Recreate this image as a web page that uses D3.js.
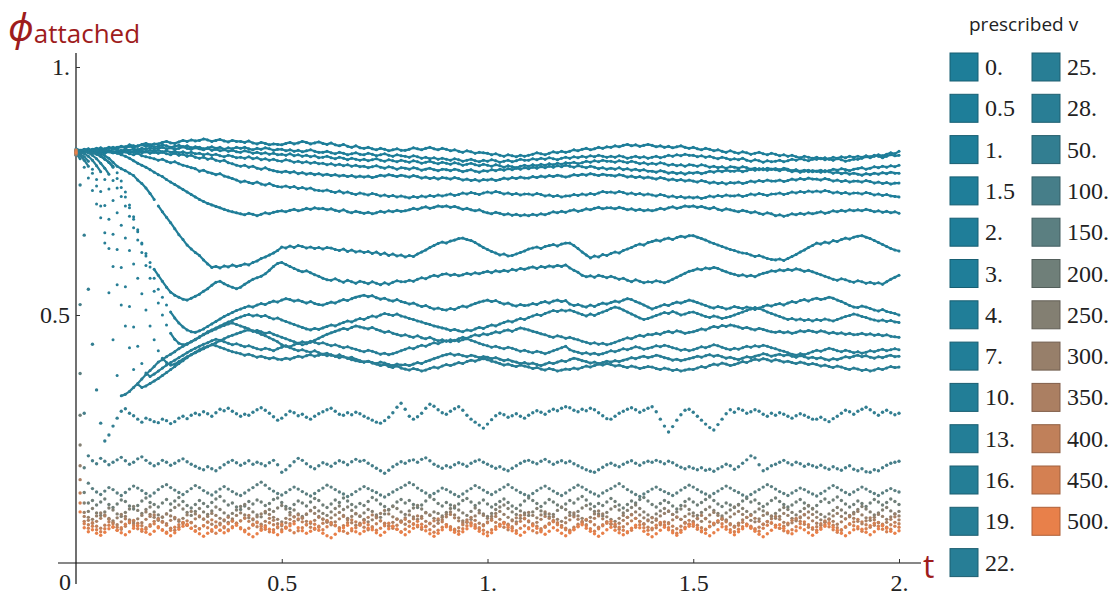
<!DOCTYPE html>
<html><head><meta charset="utf-8">
<script src="https://cdn.jsdelivr.net/npm/d3@7"></script>
<style>body{margin:0;background:#fff}svg{display:block}</style>
</head><body>
<svg id="chart" width="1116" height="596"></svg>
<script>
// prescribed v (legend categories)
const vLabels = ["0.","0.5","1.","1.5","2.","3.","4.","7.","10.","13.","16.","19.","22.","25.","28.","50.","100.","150.","200.","250.","300.","350.","400.","450.","500."];
const vValues = [0,0.5,1,1.5,2,3,4,7,10,13,16,19,22,25,28,50,100,150,200,250,300,350,400,450,500];
const tStep = 0.01;   // sampling step of t (index i -> t = i*tStep)
const xTicks = [0.5,1,1.5,2], xTickLabels = ["0.5","1.","1.5","2."];
const yTicks = [0.5,1], yTickLabels = ["0.5","1."];

// phi_attached in thousandths, t = 0 .. 2 by 0.01
const phi_v0 = [828,830,833,831,834,836,833,835,838,836,838,840,839,843,841,840,844,846,843,845,845,848,850,847,846,849,852,850,853,851,852,855,853,850,852,854,851,849,852,850,850,848,851,847,845,848,846,843,845,844,843,846,848,845,847,850,848,845,847,849,846,844,847,843,841,844,840,838,841,837,836,838,835,833,836,834,831,833,835,832,832,834,837,835,833,836,838,835,833,836,834,831,833,830,828,831,829,826,828,827,826,823,825,822,820,823,821,819,822,820,822,824,827,825,823,826,829,827,830,828,830,833,831,834,836,833,835,838,836,839,838,841,839,842,844,841,843,840,842,844,842,839,841,838,840,837,839,841,838,836,838,835,833,836,834,831,833,830,828,831,828,826,829,827,824,826,828,825,823,826,824,821,823,820,822,819,817,820,818,816,818,815,817,814,812,815,813,810,812,814,814,816,819,817,820,823,821,824,827,825,830];
const phi_v05 = [832,829,833,835,832,834,837,834,836,838,836,839,837,840,838,841,843,840,842,839,840,843,841,838,840,842,839,841,837,839,838,835,837,839,836,838,834,837,835,838,836,838,835,833,836,834,837,835,832,834,834,831,833,830,832,829,831,833,830,828,828,830,827,825,828,826,823,825,827,824,823,826,824,821,823,825,822,820,823,821,820,818,821,819,816,818,815,817,814,816,814,812,815,813,810,812,814,811,809,812,810,813,811,808,810,812,809,811,814,812,812,815,813,816,814,817,815,813,816,818,816,819,817,820,818,821,819,822,820,818,820,818,821,819,816,818,820,817,819,816,818,820,817,819,822,820,823,821,824,822,822,819,821,818,820,817,815,818,816,813,815,813,816,812,810,813,811,808,811,809,810,812,809,811,814,812,815,813,811,814,814,816,813,815,818,816,819,817,820,818,820,818,821,819,822,820,817,820,823,821,822];
const phi_v1 = [825,828,826,830,827,831,829,832,830,834,833,830,834,832,835,833,836,834,837,835,836,838,835,837,834,836,839,836,834,837,835,833,836,832,834,831,833,830,832,829,828,831,829,826,828,825,827,824,826,823,824,822,825,821,823,820,822,819,821,817,818,820,817,815,818,816,813,816,814,812,814,811,813,815,812,810,813,811,809,812,810,808,811,809,806,808,810,807,805,808,806,804,807,805,802,804,806,803,801,804,802,800,803,801,798,801,799,797,800,802,800,803,801,804,802,805,803,806,804,807,806,808,805,807,810,808,811,809,812,810,810,808,811,809,807,810,808,805,807,804,806,804,807,805,802,804,801,803,800,803,802,800,803,801,798,800,797,799,796,799,798,796,799,797,794,796,793,795,792,794,793,791,794,792,789,791,788,790,792,789,790,792,789,791,794,792,795,793,791,794,795,797,794,796,799,797,800,798,801,799,802];
const phi_v15 = [830,827,829,832,829,831,828,826,829,827,828,831,829,827,830,833,831,829,832,830,832,829,831,828,830,827,829,826,828,825,826,823,825,822,824,821,819,822,820,817,818,816,819,815,817,813,815,812,814,811,810,813,811,808,810,807,809,806,808,805,806,803,805,802,804,801,803,800,802,799,800,797,799,801,798,796,799,797,794,797,796,794,797,795,792,794,796,793,791,794,793,791,794,792,789,791,793,790,788,791,790,793,791,794,792,795,793,796,794,797,795,798,796,799,797,800,798,801,799,802,800,798,801,799,797,800,798,795,797,794,796,794,797,793,795,792,794,791,793,790,790,788,791,789,786,788,785,787,784,787,786,788,785,787,790,788,791,789,792,790,790,792,789,791,794,792,795,793,796,794,795,793,796,794,791,793,790,792,789,791,790,788,791,789,786,788,785,787,784,786,784,782,785,783,786,784,787,785,788,786,786];
const phi_v2 = [835,832,834,831,833,830,832,829,831,828,830,832,829,831,828,830,827,829,826,828,826,828,825,823,826,822,824,820,822,818,816,818,814,816,812,810,812,807,805,802,800,802,798,800,796,794,797,793,791,789,788,790,787,789,785,787,784,786,783,785,782,784,781,783,780,782,779,781,778,780,778,780,777,779,782,780,783,781,779,782,780,778,781,779,776,778,775,777,774,777,776,774,777,775,772,774,771,773,770,773,772,774,771,773,776,774,777,775,778,776,776,779,777,780,778,781,779,782,780,778,780,783,781,784,782,785,783,781,784,782,782,780,783,781,778,780,777,779,776,778,776,774,777,775,772,774,771,773,770,772,770,768,771,769,766,768,765,767,764,767,766,768,765,767,770,768,771,769,772,770,770,772,769,771,774,772,775,773,776,774,774,772,775,773,770,772,769,771,768,770,770,768,771,769,766,768,765,767,764,766,766];
const phi_v3 = [826,829,827,830,828,831,829,832,830,827,828,826,829,825,823,826,821,819,817,815,812,814,810,807,809,805,802,800,797,795,790,792,788,786,783,785,780,778,775,772,768,770,767,765,768,764,762,765,761,759,758,760,757,759,755,757,754,756,752,751,750,752,749,747,750,746,748,745,743,746,744,742,745,743,740,742,739,741,738,740,738,736,739,737,740,738,741,739,742,740,742,744,741,743,746,744,747,745,743,746,748,746,749,747,744,746,743,745,742,744,744,742,745,743,740,742,739,741,738,740,740,743,741,744,742,745,743,746,749,747,748,746,749,747,744,746,743,745,742,744,742,740,743,741,738,740,737,739,736,738,736,738,735,737,740,738,741,739,742,740,740,742,739,741,744,742,745,743,741,744,744,746,743,745,748,746,749,747,750,748,750,748,751,749,746,748,745,747,744,746,746,744,747,745,742,744,741,743,740,739,738];
const phi_v4 = [832,829,831,834,831,833,830,832,829,828,826,823,820,816,811,806,802,798,793,788,783,779,773,768,763,758,753,748,743,738,733,729,725,722,719,716,713,710,708,706,704,702,705,703,700,703,706,704,707,709,710,708,711,713,710,712,715,713,716,714,715,712,714,711,709,712,708,706,709,707,705,707,704,706,709,707,710,708,711,709,710,712,715,713,716,718,715,717,720,718,720,717,719,716,713,715,712,710,712,708,706,704,707,705,702,704,701,703,700,702,700,703,701,704,702,705,708,706,709,707,710,712,709,711,714,712,715,717,714,716,716,714,717,715,712,714,711,713,710,712,710,712,715,713,716,718,715,717,720,718,720,717,719,716,714,717,713,711,714,712,710,708,711,709,706,708,705,703,706,704,700,702,699,701,704,702,705,703,706,704,706,708,705,707,710,708,711,709,712,710,712,710,713,711,708,710,707,709,706,708,705];
const phi_v7 = [830,832,829,831,828,828,825,821,816,808,800,795,791,786,781,772,765,756,745,733,720,708,697,686,674,662,652,641,633,626,620,611,603,596,598,595,599,597,601,598,600,603,601,606,609,614,617,621,625,630,637,635,639,636,640,638,635,637,634,636,633,636,635,632,630,633,628,631,627,629,626,628,624,627,622,625,620,623,619,621,617,620,618,623,627,631,636,640,644,647,645,649,651,654,655,652,650,646,641,636,632,628,625,621,623,619,620,623,626,629,633,635,637,634,638,640,642,639,643,645,645,640,634,627,621,615,619,617,622,620,624,627,625,630,633,636,640,643,641,646,648,651,649,653,655,652,656,659,657,660,660,657,654,651,647,644,641,638,635,632,630,627,625,624,621,618,620,617,614,612,611,613,610,614,618,622,627,631,636,640,645,643,647,645,650,648,652,655,653,657,659,660,657,654,650,646,642,638,634,631,629];
const phi_v10 = [829,831,828,830,827,825,820,814,808,800,787,770,748,722,698,672,645,624,606,592,580,568,556,546,540,536,532,530,534,538,542,548,553,560,566,568,563,559,556,553,556,562,567,572,575,578,583,590,598,604,606,602,598,594,590,587,589,585,581,578,574,571,570,573,569,566,570,567,564,568,566,563,567,564,561,565,562,566,569,567,567,570,568,572,575,573,577,580,578,582,583,580,582,579,581,584,582,585,583,586,588,585,589,587,590,588,592,590,594,592,595,597,594,598,596,599,597,600,598,601,595,590,586,580,577,579,576,580,578,575,578,575,572,574,570,567,571,568,565,567,566,569,567,565,568,572,576,580,584,588,590,593,591,595,593,596,594,590,587,584,582,579,581,578,580,577,581,584,586,589,588,591,589,592,590,593,591,588,590,587,584,581,578,575,572,570,573,571,568,566,569,567,564,566,563,565,562,567,572,576,580];
const phi_v13 = [826,829,827,830,827,824,820,815,808,798,775,757,738,716,693,668,643,619,597,574,552,536,520,506,494,484,476,470,466,465,468,472,477,482,487,492,497,501,505,509,512,515,518,516,520,523,521,525,528,526,530,533,531,528,530,527,524,527,523,521,520,523,526,524,528,531,529,533,536,538,540,537,539,535,532,534,530,528,531,527,525,522,524,520,517,519,515,512,514,511,510,513,511,515,518,516,520,523,526,528,530,527,529,525,522,524,520,518,521,519,520,523,521,525,527,524,528,530,527,529,522,519,521,518,516,520,517,521,524,522,525,528,526,530,533,531,527,524,520,516,512,515,518,521,519,523,526,524,527,530,528,525,522,519,516,514,517,515,512,514,517,515,513,516,514,511,514,517,520,518,521,523,520,524,527,525,529,531,528,532,534,531,533,536,534,530,527,523,519,516,515,518,516,513,510,508,511,507,505,503,500];
const phi_v16 = [833,830,832,827,822,815,806,796,784,771,756,739,720,699,676,651,626,600,574,548,524,500,480,463,451,443,440,442,446,450,455,461,466,470,474,478,482,486,489,493,496,499,501,498,500,497,499,495,492,494,490,487,484,481,478,475,472,470,473,471,474,477,480,478,482,485,488,486,490,493,491,495,498,496,500,503,501,499,502,498,496,493,491,488,486,483,481,478,476,474,472,469,471,468,466,470,468,472,475,473,477,480,478,482,485,488,486,490,493,491,495,498,501,499,503,506,509,507,510,508,510,507,504,501,498,502,499,503,506,509,513,516,514,510,506,502,498,494,491,493,496,499,502,505,503,507,504,500,502,505,506,503,500,497,495,498,496,493,495,497,500,503,506,509,512,515,513,510,506,503,500,497,494,491,493,490,492,489,491,488,491,489,492,490,488,491,494,497,499,502,500,497,495,492,490,488,490,487,489,486,485];
const phi_v19 = [831,828,826,820,812,801,789,773,754,731,706,681,655,630,603,574,543,510,478,450,428,413,404,399,401,406,411,416,420,424,428,432,436,440,444,448,452,456,459,462,465,468,470,467,469,466,463,465,461,458,455,452,449,446,443,440,442,445,449,453,457,461,464,467,470,473,471,475,478,476,474,472,475,471,468,465,467,463,461,458,460,457,455,458,454,452,455,451,448,450,447,450,448,452,455,453,457,460,458,462,460,463,466,464,468,470,467,471,474,472,470,467,465,462,460,457,455,458,456,453,455,452,450,447,445,442,444,441,443,440,442,445,448,451,454,452,456,459,457,461,460,463,461,465,467,464,468,466,463,465,466,469,472,470,474,477,475,479,477,480,478,476,473,475,472,470,473,471,468,466,465,467,464,466,463,465,468,466,469,467,465,468,466,463,465,462,464,461,463,460,461,463,460,462,459,461,458,460,457,456,455];
const phi_v22 = [828,825,819,810,794,773,749,721,693,663,632,596,557,517,476,437,402,383,376,381,387,393,399,404,409,414,419,424,429,433,437,441,444,448,451,449,446,443,440,442,439,436,438,435,432,430,433,431,428,432,435,438,436,440,443,446,444,447,445,442,444,441,438,440,437,434,436,433,431,428,426,429,427,424,421,423,420,422,425,428,431,434,432,436,439,437,441,444,442,446,448,446,449,447,450,452,449,446,443,440,438,435,437,434,432,435,433,430,427,429,426,424,427,425,422,425,428,431,434,437,430,427,425,422,424,421,423,420,422,425,428,426,429,432,430,433,436,434,431,433,435,438,436,439,437,434,432,429,431,428,430,433,436,434,437,440,438,435,432,430,433,431,434,437,435,438,436,439,437,434,432,429,427,424,421,419,422,420,423,426,429,427,430,433,431,428,426,429,427,424,426,423,425,428,426,429,431,428,430,432,430];
const phi_v25 = [826,815,798,776,751,724,696,666,634,598,561,520,478,434,390,360,354,357,362,367,372,378,384,390,396,402,408,414,420,425,430,434,437,440,438,435,432,429,426,424,422,419,421,418,415,417,414,412,414,411,410,413,411,414,417,415,418,420,417,419,421,418,420,417,414,416,413,410,408,406,405,407,404,402,405,403,400,398,401,399,400,398,401,404,402,406,409,412,415,418,420,422,419,421,418,416,419,417,414,416,415,412,414,411,408,410,407,405,402,404,401,403,400,398,401,404,402,405,408,406,410,413,411,408,406,403,405,402,404,407,405,408,406,409,411,414,412,415,417,414,416,419,417,414,412,409,411,408,410,412,414,417,415,418,420,417,419,416,413,415,412,410,413,416,414,417,419,422,420,417,419,421,418,420,417,415,418,416,413,415,412,414,411,409,412,410,413,416,414,417,419,416,418,415,413,416,414,417,419,416,417];
const phi_v28 = [829,822,812,800,786,760,720,645,545,450,378,337,340,346,354,362,371,380,388,396,405,410,416,421,426,432,437,441,446,451,456,460,464,468,472,476,479,482,484,481,478,475,472,468,465,461,458,454,450,446,440,437,434,431,428,430,427,425,428,424,421,423,419,417,420,416,413,415,411,408,405,407,403,401,398,400,396,394,397,393,391,389,392,390,387,389,392,395,393,397,400,398,401,404,402,406,409,407,410,412,410,407,405,402,399,401,398,396,399,397,395,392,394,391,389,392,390,387,389,391,390,393,391,394,397,395,398,401,399,402,400,397,399,396,394,397,395,392,394,396,395,392,390,393,391,388,390,387,389,391,390,393,396,394,398,401,399,403,401,398,400,403,406,404,408,411,409,412,410,407,410,408,405,407,404,402,405,403,400,402,400,397,399,396,394,397,395,392,390,393,391,388,390,387,389,392,390,393,396,394,395];
const phi_v50 = [830,762,661,552,441,349,282,246,258,276,292,306,311,302,297,290,284,292,289,285,283,290,287,281,285,292,296,291,298,302,299,305,301,296,303,310,307,312,306,301,296,300,298,304,309,313,308,302,295,288,292,299,306,303,297,300,294,290,296,301,305,309,312,306,300,298,303,299,304,301,296,292,288,284,282,287,294,303,314,322,310,296,290,295,302,312,320,316,309,303,300,306,311,315,308,298,290,284,278,272,280,289,297,302,299,294,297,301,296,292,298,303,307,304,300,306,310,307,312,315,313,308,305,310,307,312,309,303,297,291,290,296,302,306,310,313,309,304,308,312,315,305,290,276,264,275,288,299,308,310,304,296,288,280,273,268,279,290,301,309,304,311,308,302,305,309,306,300,296,302,298,303,300,296,292,297,301,298,294,290,290,294,289,285,291,296,302,308,305,300,306,310,314,309,303,298,304,308,303,299,302];
const phi_v100 = [831,521,302,216,206,200,211,205,198,203,208,213,206,199,203,210,214,207,201,196,200,207,203,197,201,206,210,204,199,195,191,188,194,190,186,192,198,203,207,202,197,201,206,199,203,200,196,202,207,198,183,188,196,204,211,207,200,194,190,196,202,199,195,201,206,203,198,204,209,205,207,201,196,191,186,181,187,194,199,204,201,206,208,203,209,212,206,199,195,191,196,193,198,202,199,195,201,205,208,203,199,195,191,194,189,186,191,196,201,205,207,203,200,205,209,204,199,203,206,202,205,200,196,192,188,185,183,188,193,198,201,197,194,199,203,206,201,197,202,205,203,207,204,200,205,202,197,193,190,194,191,188,192,187,189,185,190,194,199,196,189,194,201,208,216,212,198,186,190,196,199,203,207,202,198,203,200,195,199,196,193,197,192,189,194,190,187,192,196,189,186,190,184,183,188,186,192,197,201,203,205];
const phi_v150 = [822,382,192,161,150,143,138,145,152,148,141,136,142,149,155,151,146,140,135,141,148,154,158,152,147,142,138,144,150,156,152,146,141,137,143,149,154,149,144,139,136,141,147,152,158,163,157,150,145,140,137,142,148,153,149,144,139,135,140,146,151,157,153,148,143,139,134,138,144,149,154,150,146,142,137,133,138,143,148,152,157,162,158,151,146,141,136,140,145,151,148,143,138,134,139,145,150,156,152,147,142,138,143,148,153,158,152,147,142,138,135,140,146,151,155,150,145,140,136,141,147,152,157,153,148,143,139,135,141,146,150,155,160,154,148,143,138,134,139,144,149,153,148,144,140,136,141,147,152,157,153,148,143,139,135,140,145,150,155,151,146,142,137,133,138,143,148,153,158,154,149,144,140,136,141,146,151,148,143,139,135,140,145,151,156,152,147,142,138,143,148,153,149,144,140,136,141,146,150,146,143];
const phi_v200 = [830,298,142,121,126,117,123,129,118,112,119,127,124,115,109,116,125,131,122,118,113,121,128,119,125,132,124,116,111,118,126,120,114,122,129,134,125,117,121,113,108,115,124,119,127,123,116,120,128,131,122,114,110,118,125,121,115,123,130,126,117,112,119,127,122,131,125,118,113,120,116,124,132,127,119,114,108,115,123,128,121,126,118,112,117,125,133,128,120,115,122,117,111,119,126,130,123,116,121,127,119,113,118,124,129,122,115,110,117,125,131,126,120,114,121,128,123,117,112,119,126,121,129,134,127,119,114,120,116,123,130,124,117,111,118,125,121,128,132,125,118,113,120,126,122,115,109,116,124,129,123,117,122,128,133,126,119,114,121,117,112,118,125,130,123,127,120,114,119,126,131,124,118,113,117,123,128,121,115,110,116,124,129,122,127,133,126,119,113,118,125,120,114,121,128,123,117,122,129,124,118];
const phi_v250 = [826,238,121,104,110,101,96,103,111,107,99,94,102,109,114,106,100,108,113,103,97,92,99,106,112,117,109,102,96,104,110,103,98,105,113,108,101,95,100,107,114,118,110,103,97,93,101,108,104,111,116,109,102,107,99,94,98,106,112,105,100,96,103,110,115,108,113,106,99,94,101,108,104,97,92,99,107,114,110,103,98,105,111,116,109,102,97,103,100,95,102,110,115,107,101,96,104,111,106,99,94,100,108,113,117,110,103,98,105,101,96,103,110,105,99,93,98,106,113,108,102,97,104,111,116,109,104,99,95,102,109,114,107,101,106,112,117,110,103,97,92,99,105,110,104,98,103,109,115,108,101,96,102,108,113,106,100,95,101,107,113,117,110,104,98,103,109,105,99,94,100,107,112,108,102,97,104,110,116,109,103,98,93,99,106,112,107,101,96,102,108,114,109,103,97,101,107,112,105,99,104];
const phi_v300 = [831,196,102,92,88,95,101,97,90,85,91,98,94,87,83,89,96,103,98,92,86,93,99,95,89,84,90,97,104,99,93,88,94,100,96,90,85,82,89,96,101,97,91,87,93,99,104,98,92,88,83,90,97,93,87,92,99,105,100,94,89,84,91,97,102,96,90,94,100,95,88,83,87,94,100,106,99,93,89,85,91,97,93,88,94,101,96,90,86,92,98,103,97,91,85,82,88,95,101,96,90,94,100,104,98,92,87,83,90,97,102,96,91,97,103,99,93,88,84,91,96,101,95,90,86,92,99,105,99,93,88,84,90,96,92,98,103,97,91,87,82,89,95,100,105,98,92,88,94,99,95,89,84,90,97,102,96,91,87,93,99,104,98,92,86,83,89,96,101,95,90,94,100,96,90,85,91,97,103,98,92,87,83,89,95,100,94,89,93,99,104,97,91,86,92,98,94,88,93,99,95];
const phi_v350 = [824,168,94,86,80,84,90,95,88,82,77,83,89,85,79,75,81,88,94,97,90,84,79,86,92,87,81,76,82,89,95,89,83,78,74,80,87,92,86,80,85,91,96,89,83,78,84,90,86,79,75,81,88,93,97,90,84,80,86,92,88,82,77,83,89,94,87,81,76,80,86,92,97,91,85,79,75,82,88,84,78,83,89,95,90,84,79,74,80,87,93,98,91,85,81,87,92,86,80,77,83,89,94,88,82,78,85,91,96,89,83,77,82,88,94,90,84,79,75,81,87,93,88,82,77,84,90,95,89,83,78,74,80,86,92,97,90,84,79,85,91,86,80,75,81,87,93,88,82,78,84,90,96,89,83,77,82,88,85,79,74,80,87,92,96,90,84,78,83,89,94,88,82,77,81,87,93,98,91,85,80,76,82,88,84,78,83,89,95,90,84,79,85,91,87,81,76,82,88,93,87];
const phi_v400 = [829,141,84,77,81,74,70,76,83,79,72,68,74,81,86,80,75,71,77,84,88,82,76,70,66,72,79,85,81,74,69,75,82,87,83,77,71,67,73,80,85,90,84,78,73,69,75,81,77,71,67,72,79,84,89,83,77,72,68,74,80,86,82,76,71,75,81,87,83,78,72,67,73,79,85,80,74,70,76,82,88,84,78,73,68,74,80,85,89,83,77,71,66,71,77,83,79,73,69,75,81,86,82,77,72,67,73,79,84,90,85,79,74,69,74,80,86,81,75,70,66,72,78,84,88,83,77,72,77,83,79,73,68,73,79,85,90,84,78,72,67,71,77,83,79,74,69,74,80,86,81,76,71,67,73,79,85,89,83,77,72,76,82,78,72,67,72,78,84,80,75,70,74,80,86,90,84,78,72,68,73,79,85,81,76,71,66,72,78,83,88,83,77,72,76,82,78,72,77,82,79];
const phi_v450 = [833,121,79,70,74,67,63,69,76,72,66,71,78,83,75,69,64,68,74,79,73,67,62,66,72,77,82,76,70,65,69,75,71,64,60,66,73,79,84,77,71,66,70,76,81,74,68,63,67,73,78,72,66,61,65,71,77,83,78,72,67,73,79,75,69,64,60,65,71,76,81,77,71,66,70,75,80,74,68,63,68,74,79,84,78,73,67,62,66,72,77,73,68,64,69,75,81,77,71,66,62,67,73,78,82,76,70,65,70,75,71,65,61,66,72,78,83,77,72,67,63,68,74,79,75,69,64,69,75,80,84,78,72,66,61,66,72,77,71,66,70,76,82,77,71,65,60,66,72,78,74,68,63,68,74,80,85,79,73,67,63,68,73,78,74,69,64,70,76,81,76,70,65,61,67,73,79,83,77,71,66,71,77,73,67,62,67,73,79,75,69,64,69,75,80,74,68,63,68,74,72];
const phi_v500 = [827,103,71,63,67,60,56,62,69,73,66,61,57,63,70,75,68,62,58,64,71,66,60,55,61,68,74,78,70,64,59,54,60,67,72,66,61,65,71,76,69,63,58,53,59,66,72,68,62,57,63,70,75,79,71,65,60,64,70,66,60,55,51,58,65,71,76,69,63,59,64,70,67,61,56,62,69,74,68,62,57,63,70,76,72,65,59,54,60,67,73,67,62,58,63,69,75,70,64,59,55,61,68,74,79,72,65,60,56,62,69,75,70,63,58,64,71,66,60,55,61,67,73,77,70,64,59,54,60,67,72,66,61,57,63,70,76,71,64,58,53,59,66,72,67,61,56,62,69,74,78,71,65,60,55,61,67,73,68,62,57,63,69,75,70,64,58,53,59,66,72,77,70,64,59,65,71,67,61,56,62,68,74,79,72,66,60,55,61,67,73,68,62,57,63,69,75,70,64,60,65];

const seriesValues = [phi_v0,phi_v05,phi_v1,phi_v15,phi_v2,phi_v3,phi_v4,phi_v7,phi_v10,phi_v13,phi_v16,phi_v19,phi_v22,phi_v25,phi_v28,phi_v50,phi_v100,phi_v150,phi_v200,phi_v250,phi_v300,phi_v350,phi_v400,phi_v450,phi_v500];

const svg = d3.select("#chart");
const x = d3.scaleLinear().domain([0, 2]).range([76, 899]);
const y = d3.scaleLinear().domain([0, 1]).range([563, 67]);
const color = d3.scaleLinear().domain([0, 500]).range(["#1e7e99", "#e8804a"]).interpolate(d3.interpolateRgb);
const serif = "'Liberation Serif', 'Times New Roman', 'DejaVu Serif', serif";
const sans = "'Open Sans', 'Noto Sans', sans-serif";
const red = "#9e1c1c";

// x axis line (gray), extends past the data range
svg.append("line").attr("x1", 58).attr("x2", 921).attr("y1", y(0)).attr("y2", y(0))
  .attr("stroke", "#878787").attr("stroke-width", 2.2);
const gx = svg.append("g").attr("transform", `translate(0,${y(0)})`)
  .call(d3.axisBottom(x).tickValues(xTicks).tickFormat((d, i) => xTickLabels[i]).tickSize(-4).tickSizeOuter(0).tickPadding(11));
gx.select(".domain").remove();
gx.selectAll(".tick line").attr("stroke", "#333").attr("stroke-width", 1);
gx.selectAll(".tick text").attr("font-family", serif).attr("font-size", 24).attr("fill", "#222");

// y axis
svg.append("line").attr("x1", 76).attr("x2", 76).attr("y1", 53).attr("y2", 584)
  .attr("stroke", "#111").attr("stroke-width", 1.2);
const gy = svg.append("g").attr("transform", "translate(76,0)")
  .call(d3.axisLeft(y).tickValues(yTicks).tickFormat((d, i) => yTickLabels[i]).tickSize(-4).tickSizeOuter(0).tickPadding(6));
gy.select(".domain").remove();
gy.selectAll(".tick line").attr("stroke", "#333").attr("stroke-width", 1);
gy.selectAll(".tick text").attr("font-family", serif).attr("font-size", 24).attr("fill", "#222");
svg.append("text").attr("x", 71).attr("y", 590).attr("text-anchor", "end")
  .attr("font-family", serif).attr("font-size", 24).attr("fill", "#222").text("0");

// points
const series = seriesValues.map((vals, k) => ({
  v: vValues[k],
  pts: vals.map((m, i) => ({ t: i * tStep, phi: m / 1000 }))
}));
const plot = svg.append("g");
const sg = plot.selectAll("g").data(series).join("g");
// dense runs of the slowly varying series read as continuous traces
sg.filter(d => d.v < 50).selectAll("line")
  .data(d => d3.pairs(d.pts).filter(([a, b]) => Math.abs(y(a.phi) - y(b.phi)) < 6).map(p => ({ p, v: d.v })))
  .join("line")
  .attr("x1", d => x(d.p[0].t)).attr("y1", d => y(d.p[0].phi))
  .attr("x2", d => x(d.p[1].t)).attr("y2", d => y(d.p[1].phi))
  .attr("stroke", d => color(d.v)).attr("stroke-width", 2.2).attr("stroke-linecap", "round");
sg.selectAll("circle").data(d => d.pts.map(p => ({ ...p, v: d.v }))).join("circle")
  .attr("cx", d => x(d.t)).attr("cy", d => y(d.phi))
  .attr("r", d => d.v < 50 ? 1.5 : 1.7)
  .attr("fill", d => color(d.v));

// axis labels
const yl = svg.append("text").attr("x", 8).attr("y", 41).attr("fill", red);
yl.append("tspan").attr("font-family", "'Noto Sans','DejaVu Sans',sans-serif").attr("font-style", "italic").attr("font-size", 38).text("ϕ");
yl.append("tspan").attr("font-family", sans).attr("font-size", 26).attr("dy", 2).text("attached");
svg.append("text").attr("x", 923).attr("y", 578).attr("fill", red)
  .attr("font-family", sans).attr("font-size", 32).text("t");

// legend
svg.append("text").attr("x", 969).attr("y", 31).attr("font-family", sans).attr("font-size", 19)
  .attr("fill", "#222").text("prescribed v");
const legendItems = vLabels.map((lab, k) => ({ lab, v: vValues[k], col: k < 13 ? 0 : 1, row: k < 13 ? k : k - 13 }));
const lg = svg.append("g").selectAll("g").data(legendItems).join("g")
  .attr("transform", d => `translate(${d.col ? 1032 : 950},${67 + d.row * 41.3})`);
lg.append("rect").attr("x", 0).attr("y", -14).attr("width", 28).attr("height", 28)
  .attr("fill", d => color(d.v)).attr("stroke", d => d3.color(color(d.v)).darker(0.8)).attr("stroke-width", 1);
lg.append("text").attr("x", 35).attr("y", 8).attr("font-family", serif).attr("font-size", 24)
  .attr("fill", "#222").text(d => d.lab);
</script>
</body></html>
